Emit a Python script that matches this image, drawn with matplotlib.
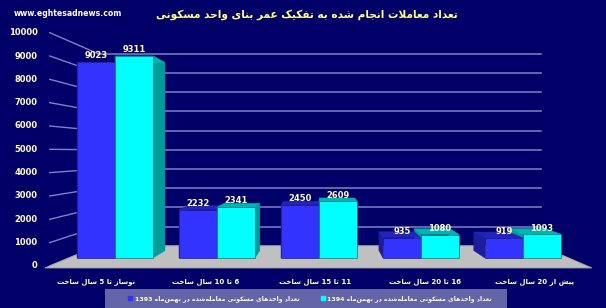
import matplotlib
matplotlib.use("Agg")
import matplotlib.pyplot as plt
from matplotlib.patches import Polygon, Rectangle
from matplotlib.lines import Line2D

# ---------------- data ----------------
categories = ["نوساز تا 5 سال ساخت", "6 تا 10 سال ساخت", "11 تا 15 سال ساخت",
              "16 تا 20 سال ساخت", "پیش از 20 سال ساخت"]
values_1393 = [9023, 2232, 2450, 935, 919]
values_1394 = [9311, 2341, 2609, 1080, 1093]
series_names = ["تعداد واحدهای مسکونی معامله‌شده در بهمن‌ماه 1393",
                "تعداد واحدهای مسکونی معامله‌شده در بهمن‌ماه 1394"]
y_ticks = [0, 1000, 2000, 3000, 4000, 5000, 6000, 7000, 8000, 9000, 10000]
title = "تعداد معاملات انجام شده به تفکیک عمر بنای واحد مسکونی"
website = "www.eghtesadnews.com"

# ---------------- minimal Arabic/Persian shaping ----------------
FORMS = {
    'ا': (0xFE8D, 0xFE8E), 'آ': (0xFE81, 0xFE82), 'د': (0xFEA9, 0xFEAA),
    'ذ': (0xFEAB, 0xFEAC), 'ر': (0xFEAD, 0xFEAE), 'ز': (0xFEAF, 0xFEB0),
    'ژ': (0xFB8A, 0xFB8B), 'و': (0xFEED, 0xFEEE),
    'ب': (0xFE8F, 0xFE90, 0xFE91, 0xFE92), 'پ': (0xFB56, 0xFB57, 0xFB58, 0xFB59),
    'ت': (0xFE95, 0xFE96, 0xFE97, 0xFE98), 'ث': (0xFE99, 0xFE9A, 0xFE9B, 0xFE9C),
    'ج': (0xFE9D, 0xFE9E, 0xFE9F, 0xFEA0), 'چ': (0xFB7A, 0xFB7B, 0xFB7C, 0xFB7D),
    'ح': (0xFEA1, 0xFEA2, 0xFEA3, 0xFEA4), 'خ': (0xFEA5, 0xFEA6, 0xFEA7, 0xFEA8),
    'س': (0xFEB1, 0xFEB2, 0xFEB3, 0xFEB4), 'ش': (0xFEB5, 0xFEB6, 0xFEB7, 0xFEB8),
    'ص': (0xFEB9, 0xFEBA, 0xFEBB, 0xFEBC), 'ض': (0xFEBD, 0xFEBE, 0xFEBF, 0xFEC0),
    'ط': (0xFEC1, 0xFEC2, 0xFEC3, 0xFEC4), 'ظ': (0xFEC5, 0xFEC6, 0xFEC7, 0xFEC8),
    'ع': (0xFEC9, 0xFECA, 0xFECB, 0xFECC), 'غ': (0xFECD, 0xFECE, 0xFECF, 0xFED0),
    'ف': (0xFED1, 0xFED2, 0xFED3, 0xFED4), 'ق': (0xFED5, 0xFED6, 0xFED7, 0xFED8),
    'ک': (0xFB8E, 0xFB8F, 0xFB90, 0xFB91), 'گ': (0xFB92, 0xFB93, 0xFB94, 0xFB95),
    'ل': (0xFEDD, 0xFEDE, 0xFEDF, 0xFEE0), 'م': (0xFEE1, 0xFEE2, 0xFEE3, 0xFEE4),
    'ن': (0xFEE5, 0xFEE6, 0xFEE7, 0xFEE8), 'ه': (0xFEE9, 0xFEEA, 0xFEEB, 0xFEEC),
    'ی': (0xFBFC, 0xFBFD, 0xFBFE, 0xFBFF),
}


def _dual(c):
    return c in FORMS and len(FORMS[c]) == 4


def shape(s):
    out = []
    n = len(s)
    i = 0
    while i < n:
        c = s[i]
        if c not in FORMS:
            if c != '\u200c':
                out.append(c)
            i += 1
            continue
        prev_join = i > 0 and _dual(s[i - 1])
        if c == 'ل' and i + 1 < n and s[i + 1] in ('ا', 'آ'):
            if s[i + 1] == 'ا':
                out.append(chr(0xFEFC if prev_join else 0xFEFB))
            else:
                out.append(chr(0xFEF6 if prev_join else 0xFEF5))
            i += 2
            continue
        next_join = _dual(c) and i + 1 < n and s[i + 1] in FORMS
        f = FORMS[c]
        if prev_join and next_join:
            out.append(chr(f[3]))
        elif prev_join:
            out.append(chr(f[1]))
        elif next_join:
            out.append(chr(f[2]))
        else:
            out.append(chr(f[0]))
        i += 1
    shaped = ''.join(out)
    # visual reorder: RTL base, digit runs kept LTR
    runs = []
    for ch in shaped:
        is_ltr = ch.isdigit()
        if runs and runs[-1][0] == is_ltr:
            runs[-1][1].append(ch)
        else:
            runs.append([is_ltr, [ch]])
    vis = []
    for is_ltr, chars in reversed(runs):
        vis.append(''.join(chars) if is_ltr else ''.join(reversed(chars)))
    return ''.join(vis)


# ---------------- style ----------------
BG = '#000068'
GRID = '#8080c8'
TXT = '#ffffcc'
BLUE, BLUE_SIDE, BLUE_TOP = '#3333ff', '#1c1c9c', '#2424b8'
CYAN, CYAN_SIDE, CYAN_TOP = '#00ffff', '#009c9c', '#00b4b4'
FLOOR = '#c0c0c0'
FONT = ['DejaVu Sans']

W, H = 606, 308
fig = plt.figure(figsize=(W / 100, H / 100), dpi=100, facecolor=BG)
ax = fig.add_axes([0, 0, 1, 1])
ax.set_facecolor(BG)
ax.axis('off')

# data coordinates: category index on x, value on y (front plane of bars)
px_per_cat = 102.0
px_per_unit = 0.0217
x0_px, y0_px = 115.0, 258.0
ax.set_xlim(-x0_px / px_per_cat, (W - x0_px) / px_per_cat)
ax.set_ylim((y0_px - H) / px_per_unit, y0_px / px_per_unit)

# perspective helpers
VPX, VPY = 2.05, 4885.0


def proj(x, y, k):
    return (VPX + (x - VPX) * k, VPY + (y - VPY) * k)


K_BACK_WALL = 0.886
K_FRONT = 1.094
K_LEFT = 1.075
K_BAR_BACK = 0.93
XL, XR = -0.452, 4.45

# back-wall gridlines + left wall lines
for v in y_ticks:
    bx0, by = proj(XL, v, K_BACK_WALL)
    bx1, _ = proj(XR, v, K_BACK_WALL)
    fx, fy = proj(XL, v, K_LEFT)
    ax.plot([bx0, bx1], [by, by], color=GRID, lw=1.1, zorder=1)
    ax.plot([fx, bx0], [fy, by], color=GRID, lw=1.0, zorder=1)
    ax.text(fx - 0.12, fy, str(v), color=TXT, fontsize=6.0, fontweight='bold',
            ha='right', va='center', family=FONT, zorder=5)

# floor
floor = [proj(XL, 0, K_FRONT), proj(XR, 0, K_FRONT),
         proj(XR, 0, K_BACK_WALL), proj(XL, 0, K_BACK_WALL)]
ax.add_patch(Polygon(floor, closed=True, facecolor=FLOOR, edgecolor='#a8a8a8',
                     lw=0.6, zorder=1.5))

# bars
width = 0.3725
xs = list(range(len(categories)))
b1 = ax.bar([x - width / 2 for x in xs], values_1393, width=width, color=BLUE,
            edgecolor='#202080', lw=0.5, zorder=4)
b2 = ax.bar([x + width / 2 for x in xs], values_1394, width=width, color=CYAN,
            edgecolor='#207070', lw=0.5, zorder=4.1)


def box_faces(xc, v, side_col, top_col, z):
    xa, xb = xc - width / 2, xc + width / 2
    for xe in (xa, xb):
        pts = [(xe, 0), (xe, v), proj(xe, v, K_BAR_BACK), proj(xe, 0, K_BAR_BACK)]
        ax.add_patch(Polygon(pts, closed=True, facecolor=side_col,
                             edgecolor=side_col, lw=0.3, zorder=2 + z))
    top = [(xa, v), (xb, v), proj(xb, v, K_BAR_BACK), proj(xa, v, K_BAR_BACK)]
    ax.add_patch(Polygon(top, closed=True, facecolor=top_col,
                         edgecolor=top_col, lw=0.3, zorder=3 + z))


for x, v in zip(xs, values_1393):
    box_faces(x - width / 2, v, BLUE_SIDE, BLUE_TOP, 0.0)
for x, v in zip(xs, values_1394):
    box_faces(x + width / 2, v, CYAN_SIDE, CYAN_TOP, 0.1)

# value labels
for x, v in zip(xs, values_1393):
    ax.text(x - width / 2, v + 80, str(v), color=TXT, fontsize=6.0,
            fontweight='bold', ha='center', va='bottom', family=FONT, zorder=6)
for x, v in zip(xs, values_1394):
    ax.text(x + width / 2, v + 80, str(v), color=TXT, fontsize=6.0,
            fontweight='bold', ha='center', va='bottom', family=FONT, zorder=6)

# category labels along floor front edge
for x, c in zip(xs, categories):
    lx, _ = proj(x - 0.03, 0, 1.075)
    ax.text(lx, -1100, shape(c), color=TXT, fontsize=5.0, fontweight='bold',
            ha='center', va='center', family=FONT, zorder=6)

# title and website
fig.text(307 / W, 1 - 15 / H, shape(title), color='#ffff88', fontsize=7.6,
         fontweight='bold', ha='center', va='center', family=FONT)
fig.text(68 / W, 1 - 14 / H, website, color='white', fontsize=5.6,
         fontweight='bold', ha='center', va='center', family=FONT)

# legend
fig.patches.append(Rectangle((105 / W, 0), (507 - 105) / W, (308 - 289) / H,
                             transform=fig.transFigure, facecolor='#6464a8',
                             edgecolor='none', zorder=0))
handles = [Line2D([], [], marker='s', ls='none', color=BLUE, markersize=3.2),
           Line2D([], [], marker='s', ls='none', color=CYAN, markersize=3.2)]
leg = fig.legend(handles, [shape(series_names[0]), shape(series_names[1])],
                 loc='center', bbox_to_anchor=(310 / W, 1 - 299 / H), ncol=2,
                 frameon=False, handlelength=0.6, handletextpad=0.4,
                 columnspacing=3.4, prop={'family': FONT, 'size': 4.5,
                                          'weight': 'bold'})
for t in leg.get_texts():
    t.set_color(TXT)

fig.savefig('out.png', dpi=100, facecolor=BG)
